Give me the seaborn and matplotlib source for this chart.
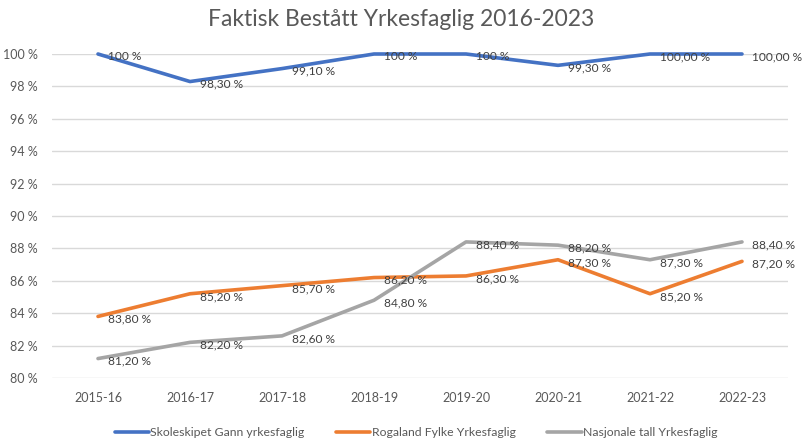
import pandas as pd
import matplotlib.pyplot as plt
import seaborn as sns

years = ['2015-16', '2016-17', '2017-18', '2018-19', '2019-20', '2020-21', '2021-22', '2022-23']
series_names = ['Skoleskipet Gann yrkesfaglig', 'Rogaland Fylke Yrkesfaglig', 'Nasjonale tall Yrkesfaglig']
gann = [100, 98.3, 99.1, 100, 100, 99.3, 100, 100]
rogaland = [83.8, 85.2, 85.7, 86.2, 86.3, 87.3, 85.2, 87.2]
nasjonal = [81.2, 82.2, 82.6, 84.8, 88.4, 88.2, 87.3, 88.4]
gann_labels = ['100 %', '98,30 %', '99,10 %', '100 %', '100 %', '99,30 %', '100,00 %', '100,00 %']
rogaland_labels = ['83,80 %', '85,20 %', '85,70 %', '86,20 %', '86,30 %', '87,30 %', '85,20 %', '87,20 %']
nasjonal_labels = ['81,20 %', '82,20 %', '82,60 %', '84,80 %', '88,40 %', '88,20 %', '87,30 %', '88,40 %']
colors = ['#4472C4', '#ED7D31', '#A5A5A5']

sns.set_theme(style='white')
plt.rcParams['font.family'] = ['Lato', 'DejaVu Sans']

# long-form table for seaborn
rows = []
for name, vals in zip(series_names, [gann, rogaland, nasjonal]):
    for i, v in enumerate(vals):
        rows.append({'year': i, 'serie': name, 'value': v})
df = pd.DataFrame(rows)

fig = plt.figure(figsize=(8.02, 4.38), dpi=100)
ax = fig.add_axes([52 / 802, 1 - 378 / 438, 736 / 802, 324 / 438])

sns.lineplot(data=df, x='year', y='value', hue='serie', hue_order=series_names,
             palette=colors, linewidth=2.6, ax=ax, legend=False, clip_on=False)

# data labels to the right of each point
for vals, labels in zip([gann, rogaland, nasjonal], [gann_labels, rogaland_labels, nasjonal_labels]):
    for i, (v, lab) in enumerate(zip(vals, labels)):
        ax.annotate(lab, (i, v), xytext=(7.5, -2), textcoords='offset points',
                    ha='left', va='center', fontsize=8.6, color='#404040')

ax.set_xlim(-0.5, 7.5)
ax.set_ylim(80, 100)
ax.set_yticks(range(80, 101, 2))
ax.set_yticklabels([f'{t} %' for t in range(80, 101, 2)])
ax.set_xticks(range(len(years)))
ax.set_xticklabels(years)
ax.tick_params(axis='both', labelsize=9, colors='#595959', length=0)
ax.tick_params(axis='x', pad=10)
ax.tick_params(axis='y', pad=10)
ax.yaxis.grid(True, color='#D9D9D9', linewidth=1)
ax.set_axisbelow(True)
sns.despine(ax=ax, left=True, bottom=True)
ax.set_xlabel('')
ax.set_ylabel('')

fig.text(0.5, 1 - 20 / 438, 'Faktisk Bestått Yrkesfaglig 2016-2023', ha='center', va='center',
         fontsize=16.5, color='#595959')

handles = [plt.Line2D([], [], color=c, linewidth=2.6) for c in colors]
fig.legend(handles, series_names, loc='center', bbox_to_anchor=(416 / 802, 1 - 433 / 438), ncol=3,
           frameon=False, fontsize=8.8, handlelength=2.8, handletextpad=0.1, columnspacing=2.6,
           labelcolor='#595959')

fig.savefig('out.png', dpi=100)
